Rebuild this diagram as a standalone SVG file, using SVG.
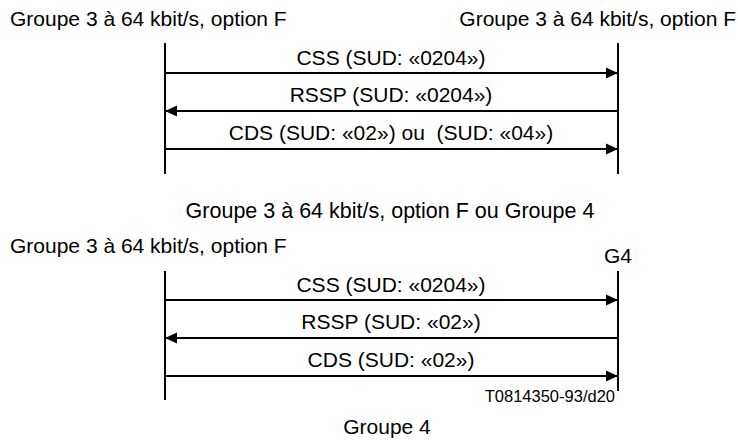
<svg xmlns="http://www.w3.org/2000/svg" width="738" height="440" viewBox="0 0 738 440">
<style>
text{font-family:"Liberation Sans",Arial,sans-serif;font-size:21px;fill:#000}
.c{text-anchor:middle}
.r{text-anchor:end}
.life{stroke:#000;stroke-width:2;fill:none}
.msg{stroke:#000;stroke-width:2;fill:none}
.small{font-size:16.5px}
</style>
<defs>
<marker id="ah" viewBox="0 0 12 12" refX="12" refY="6" markerWidth="12" markerHeight="12" markerUnits="userSpaceOnUse" orient="auto">
<path d="M0,0.5 L12,6 L0,11.5 Z" fill="#000"/>
</marker>
</defs>
<g id="titles">
<text x="10" y="26">Groupe 3 à 64 kbit/s, option F</text>
<text x="736" y="26" class="r">Groupe 3 à 64 kbit/s, option F</text>
<text x="390" y="218" class="c" style="font-size:21.5px">Groupe 3 à 64 kbit/s, option F ou Groupe 4</text>
<text x="10" y="253">Groupe 3 à 64 kbit/s, option F</text>
<text x="618" y="263" class="c">G4</text>
<text x="615" y="402" class="r small">T0814350-93/d20</text>
<text x="387" y="434" class="c">Groupe 4</text>
</g>
<g id="lifelines">
<line class="life" x1="165" y1="43" x2="165" y2="174"/>
<line class="life" x1="618" y1="43" x2="618" y2="174"/>
<line class="life" x1="165" y1="271" x2="165" y2="400"/>
<line class="life" x1="618" y1="271" x2="618" y2="391"/>
</g>
<g id="connectors">
<line class="msg" x1="165" y1="73" x2="618" y2="73" marker-end="url(#ah)"/>
<line class="msg" x1="618" y1="111" x2="165" y2="111" marker-end="url(#ah)"/>
<line class="msg" x1="165" y1="149" x2="618" y2="149" marker-end="url(#ah)"/>
<line class="msg" x1="165" y1="300" x2="618" y2="300" marker-end="url(#ah)"/>
<line class="msg" x1="618" y1="338" x2="165" y2="338" marker-end="url(#ah)"/>
<line class="msg" x1="165" y1="376" x2="618" y2="376" marker-end="url(#ah)"/>
</g>
<g id="labels">
<text x="391" y="65" class="c">CSS (SUD: «0204»)</text>
<text x="391" y="102" class="c">RSSP (SUD: «0204»)</text>
<text x="391" y="140" class="c">CDS (SUD: «02») ou&#160; (SUD: «04»)</text>
<text x="391" y="292" class="c">CSS (SUD: «0204»)</text>
<text x="391" y="329" class="c">RSSP (SUD: «02»)</text>
<text x="391" y="367" class="c">CDS (SUD: «02»)</text>
</g>
</svg>
